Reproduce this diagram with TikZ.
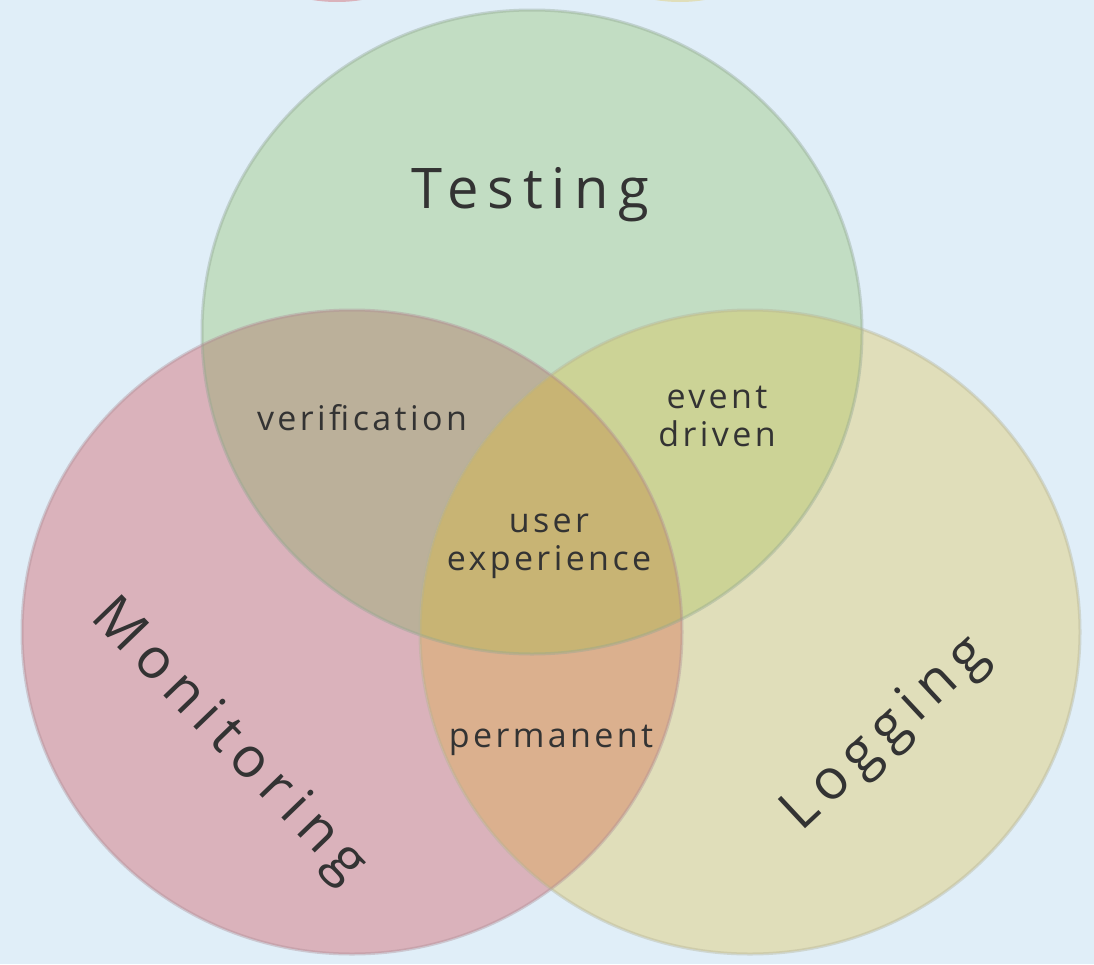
\documentclass[tikz,border=0pt]{standalone}
\usepackage{fontspec}
\setmainfont{Open Sans}
\definecolor{bg}{HTML}{E0EEF8}
\definecolor{cg}{HTML}{C2DDC3}
\definecolor{cr}{HTML}{DAB2BB}
\definecolor{cy}{HTML}{E0DEBA}
\definecolor{cgr}{HTML}{BBB09A}
\definecolor{cgy}{HTML}{CCD396}
\definecolor{cry}{HTML}{DBB08E}
\definecolor{cgry}{HTML}{C8B474}
\definecolor{ink}{HTML}{333333}
\begin{document}
\begin{tikzpicture}[x=1pt,y=-1pt,
  lbl/.style={text=ink,font=\fontsize{34}{38}\selectfont\addfontfeature{LetterSpace=10},align=center,inner sep=0pt},
  big/.style={text=ink,font=\fontsize{56}{62}\selectfont\addfontfeature{LetterSpace=16},inner sep=0pt},
  edge/.style={line width=3pt,opacity=0.4}]
\useasboundingbox (0,0) rectangle (1094,964);
\fill[bg] (0,0) rectangle (1094,964);
% cut-off shapes at the top
\begin{scope}
\clip (0,0) rectangle (1094,964);
\fill[cr] (337,-150) circle (152);
\fill[cy] (680,-150) circle (152);
\end{scope}
\def\T{(532,332) ellipse [x radius=330,y radius=322]}
\def\M{(352,632) ellipse [x radius=330,y radius=322]}
\def\L{(750,632) ellipse [x radius=330,y radius=322]}
\fill[cg] \T;
\fill[cr] \M;
\fill[cy] \L;
\begin{scope}\clip \T; \fill[cgr] \M; \fill[cgy] \L; \end{scope}
\begin{scope}\clip \M; \fill[cry] \L; \end{scope}
\begin{scope}\clip \T; \clip \M; \fill[cgry] \L; \end{scope}
\draw[edge,color=cg!75!black] \T;
\draw[edge,color=cr!80!black] \M;
\draw[edge,color=cy!80!black] \L;
\node[big] (testing) at (530,195) {Testing};
\node[big,rotate=-46] (monitoring) at (228,742) {Monitoring};
\node[big,rotate=43] (logging) at (886,735) {Logging};
\node[lbl] (verification) at (362,418) {verification};
\node[lbl] (event) at (717,416) {event\\driven};
\node[lbl] (ux) at (549,546) {user\\experience};
\node[lbl] (permanent) at (551,740) {permanent};
\end{tikzpicture}
\end{document}
